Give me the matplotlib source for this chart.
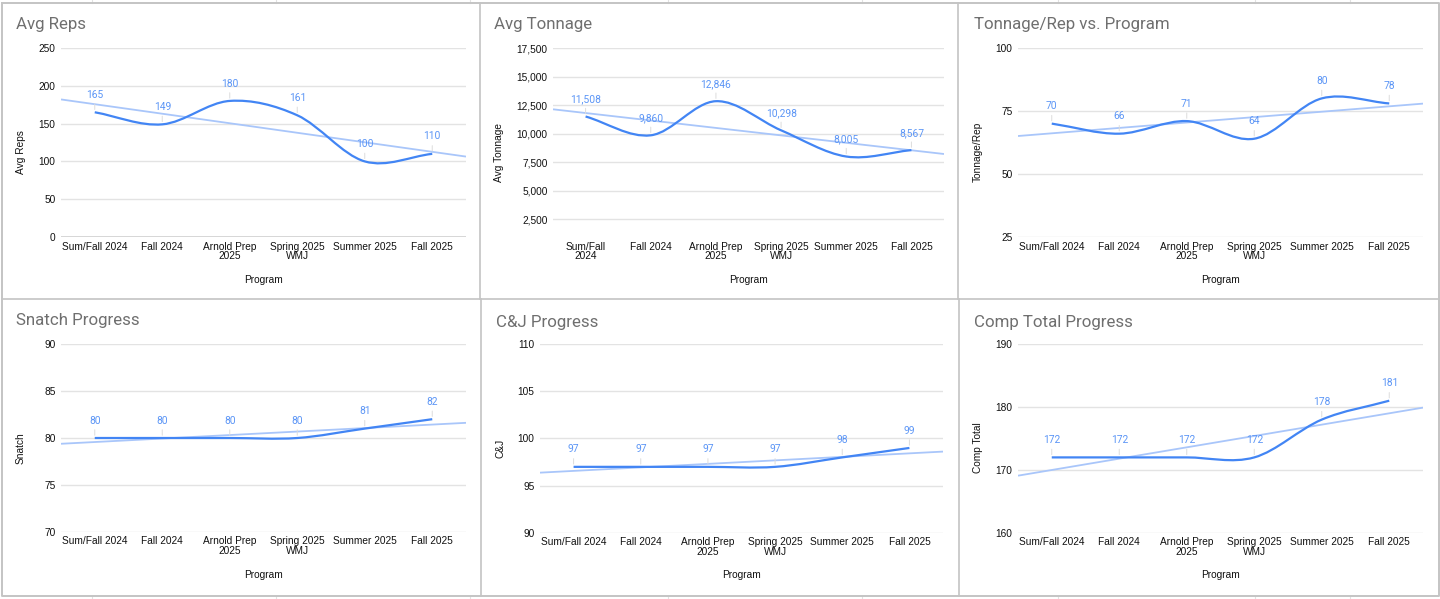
import numpy as np
import matplotlib
matplotlib.use('Agg')
import matplotlib.pyplot as plt
from matplotlib.path import Path
from matplotlib.patches import PathPatch

W, H = 1440, 599

programs = ['Sum/Fall 2024', 'Fall 2024', 'Arnold Prep\n2025', 'Spring 2025\nWMJ',
            'Summer 2025', 'Fall 2025']
programs_narrow = ['Sum/Fall\n2024', 'Fall 2024', 'Arnold Prep\n2025', 'Spring 2025\nWMJ',
                   'Summer 2025', 'Fall 2025']

avg_reps = [165, 149, 180, 161, 100, 110]
avg_tonnage = [11508, 9860, 12846, 10298, 8005, 8567]
tonnage_per_rep = [70, 66, 71, 64, 80, 78]
snatch = [80, 80, 80, 80, 81, 82]
cj = [97, 97, 97, 97, 98, 99]
comp_total = [172, 172, 172, 172, 178, 181]

LINE = '#4285f4'
TREND = '#a9c6fa'
LABEL = '#5b95f6'
GRID = '#e3e3e3'
TITLE = '#6f6f6f'
BORDER = '#c4c4c4'
TEXT = '#111111'
TICKFONT = 'Liberation Sans'
TITLEFONT = 'Roboto'


def px_axes(fig, x0, y0, x1, y1):
    return fig.add_axes([x0 / W, 1 - y1 / H, (x1 - x0) / W, (y1 - y0) / H])


def smooth_path(y):
    # catmull-rom style bezier through the points
    y = np.asarray(y, dtype=float)
    n = len(y)
    m = np.zeros(n)
    m[1:-1] = (y[2:] - y[:-2]) / 2.0
    m[0] = y[1] - y[0]
    m[-1] = y[-1] - y[-2]
    verts = [(0, y[0])]
    codes = [Path.MOVETO]
    for i in range(n - 1):
        verts += [(i + 1 / 3, y[i] + m[i] / 3), (i + 2 / 3, y[i + 1] - m[i + 1] / 3), (i + 1, y[i + 1])]
        codes += [Path.CURVE4] * 3
    return Path(verts, codes)


def draw_panel(fig, box, title, title_xy, ylabel, ylabel_xy, xlabel_y, values, ylim, yticks,
               labels, fmt, pad, zero_base=False, hide_first_grid=False):
    ax = px_axes(fig, *box)
    x = np.arange(len(values))
    ax.set_xlim(-0.5, len(values) - 0.5)
    ax.set_ylim(*ylim)
    for s in ax.spines.values():
        s.set_visible(False)
    for t in yticks:
        if hide_first_grid and t == ylim[0]:
            continue
        c = '#333333' if (zero_base and t == 0) else GRID
        ax.axhline(t, color=c, lw=1.0, zorder=1)
    shown = [t for t in yticks if not (hide_first_grid and t == ylim[0])]
    ax.set_yticks(shown)
    ax.set_yticklabels([f'{t:,}' for t in shown], fontfamily=TICKFONT, fontsize=7.3)
    ax.set_xticks(x)
    ax.set_xticklabels(labels, fontfamily=TICKFONT, fontsize=7.3, linespacing=0.95)
    ax.tick_params(axis='both', length=0, colors=TEXT)
    ax.tick_params(axis='y', pad=4)
    ax.tick_params(axis='x', pad=pad)

    # trendline
    k, b = np.polyfit(x, values, 1)
    xt = np.array([-0.5, len(values) - 0.5])
    ax.plot(xt, k * xt + b, color=TREND, lw=1.3, zorder=2, solid_capstyle='butt')

    ax.add_patch(PathPatch(smooth_path(values), facecolor='none', edgecolor=LINE, lw=1.6, zorder=3))

    for xi, v in zip(x, values):
        ax.annotate(fmt(v), xy=(xi, v), xytext=(0, 12.5), textcoords='offset points',
                    ha='center', va='center', color=LABEL, fontsize=7.4, fontfamily=TITLEFONT,
                    arrowprops=dict(arrowstyle='-', color='#dcdcdc', lw=0.7, shrinkA=1, shrinkB=2),
                    zorder=4)

    fig.text(title_xy[0] / W, 1 - title_xy[1] / H, title, color=TITLE, fontsize=12.2,
             fontfamily=TITLEFONT, ha='left', va='center')
    fig.text(ylabel_xy[0] / W, 1 - ylabel_xy[1] / H, ylabel, rotation=90, fontsize=7.3,
             fontfamily=TICKFONT, ha='center', va='center', color=TEXT)
    cx = (box[0] + box[2]) / 2
    fig.text(cx / W, 1 - xlabel_y / H, 'Program', fontsize=7.3, fontfamily=TICKFONT,
             ha='center', va='center', color=TEXT)
    return ax


fig = plt.figure(figsize=(W / 100, H / 100), dpi=100)
fig.patch.set_facecolor('white')

# background frame with panel borders
bg = fig.add_axes([0, 0, 1, 1])
bg.set_xlim(0, W)
bg.set_ylim(H, 0)
bg.axis('off')
for gx in [92, 276, 470, 668, 862, 1058, 1255, 1350]:
    bg.plot([gx, gx], [0, 3], color='#e2e2e2', lw=0.8)
    bg.plot([gx, gx], [596, 599], color='#e2e2e2', lw=0.8)
bg.plot([1.5, 1438.5, 1438.5, 1.5, 1.5], [3, 3, 595.5, 595.5, 3], color=BORDER, lw=1.4)
bg.plot([1.5, 1438.5], [299, 299], color=BORDER, lw=1.2)
bg.plot([479.5, 479.5], [3, 299], color=BORDER, lw=1.2)
bg.plot([957.5, 957.5], [3, 299], color=BORDER, lw=1.2)
bg.plot([480.5, 480.5], [299, 595.5], color=BORDER, lw=1.2)
bg.plot([958.5, 958.5], [299, 595.5], color=BORDER, lw=1.2)

thousands = lambda v: f'{v:,}'
plain = lambda v: f'{v}'

draw_panel(fig, (61, 48, 466, 237), 'Avg Reps', (16, 25), 'Avg Reps', (20.5, 152), 280,
           avg_reps, (0, 250), [0, 50, 100, 150, 200, 250], programs, plain, 3.5, zero_base=True)
draw_panel(fig, (553, 48, 944, 248), 'Avg Tonnage', (494, 25), 'Avg Tonnage', (499, 152), 280,
           avg_tonnage, (0, 17500), [0, 2500, 5000, 7500, 10000, 12500, 15000, 17500],
           programs_narrow, thousands, -4.4, hide_first_grid=True)
draw_panel(fig, (1018, 48, 1423, 237), 'Tonnage/Rep vs. Program', (974, 25), 'Tonnage/Rep',
           (978, 152), 280, tonnage_per_rep, (25, 100), [25, 50, 75, 100], programs, plain, 3.5)
draw_panel(fig, (61, 344, 466, 532), 'Snatch Progress', (16, 321), 'Snatch', (20.5, 448), 575,
           snatch, (70, 90), [70, 75, 80, 85, 90], programs, plain, 3.2)
draw_panel(fig, (540, 344, 943, 533), 'C&J Progress', (496, 322), 'C&J', (500, 448), 575,
           cj, (90, 110), [90, 95, 100, 105, 110], programs, plain, 3.2)
draw_panel(fig, (1018, 344, 1423, 533), 'Comp Total Progress', (974, 322), 'Comp Total',
           (978, 448), 575, comp_total, (160, 190), [160, 170, 180, 190], programs, plain, 3.2)

fig.savefig('out.png', dpi=100, facecolor='white')
